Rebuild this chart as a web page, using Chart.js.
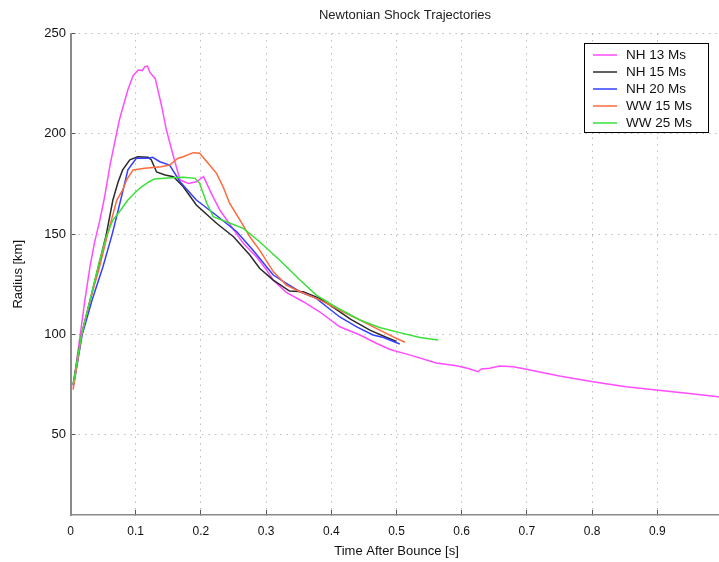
<!DOCTYPE html>
<html>
<head>
<meta charset="utf-8">
<script src="https://cdn.jsdelivr.net/npm/chart.js@4/dist/chart.umd.min.js"></script>
<style>
  html, body { margin: 0; padding: 0; overflow: hidden; background: #fff; }
  #wrap { width: 810px; height: 562px; }
</style>
</head>
<body>
<div id="wrap"><canvas id="c" width="810" height="562"></canvas></div>
<script>
// Shock radius [km] versus time after bounce [s] for each progenitor model
const nh13Time = [0.004, 0.015, 0.022, 0.030, 0.037, 0.045, 0.052, 0.061, 0.075, 0.088, 0.096, 0.104, 0.110, 0.114, 0.118, 0.122, 0.130, 0.140, 0.147, 0.158, 0.168, 0.181, 0.193, 0.204, 0.216, 0.229, 0.247, 0.265, 0.285, 0.300, 0.311, 0.331, 0.357, 0.382, 0.413, 0.444, 0.469, 0.490, 0.520, 0.561, 0.592, 0.610, 0.625, 0.630, 0.643, 0.658, 0.679, 0.699, 0.750, 0.801, 0.852, 0.898, 0.949, 1.000];
const nh13Radius = [74, 100, 117, 134, 146, 157, 168, 185, 207, 222, 229, 231.8, 231.5, 233.5, 233.8, 230.5, 227.5, 213.5, 202, 188.6, 177, 175.3, 176.1, 178.6, 170.3, 162, 153.7, 145.4, 138.7, 132.5, 127, 121, 116.3, 111.3, 103.8, 99.7, 95.6, 92.5, 89.8, 85.8, 84.4, 83, 81.4, 82.8, 83.1, 84.3, 83.9, 82.6, 79.3, 76.4, 73.9, 72.3, 70.6, 68.7];

const nh15Time = [0.004, 0.017, 0.030, 0.043, 0.055, 0.065, 0.073, 0.080, 0.091, 0.103, 0.119, 0.124, 0.132, 0.145, 0.158, 0.173, 0.193, 0.224, 0.250, 0.275, 0.290, 0.311, 0.336, 0.357, 0.382, 0.403, 0.430, 0.460, 0.485, 0.500];
const nh15Radius = [75, 100, 117, 134, 150, 167, 176, 182, 187, 188.6, 188.3, 187, 181, 179.5, 178.6, 173.6, 164.5, 155.4, 148.7, 139.6, 133, 127.1, 121.6, 121.3, 118, 113.5, 107.5, 102, 98.5, 96.5];

const nh20Time = [0.005, 0.018, 0.033, 0.050, 0.064, 0.077, 0.088, 0.101, 0.119, 0.126, 0.137, 0.152, 0.168, 0.193, 0.224, 0.255, 0.280, 0.290, 0.311, 0.331, 0.352, 0.377, 0.393, 0.413, 0.439, 0.464, 0.480, 0.505];
const nh20Radius = [75, 100, 117, 134, 150, 167, 182, 187.8, 187.8, 188.3, 186.1, 184.4, 176.1, 167, 159.3, 151.2, 142, 138, 129.6, 125.5, 121.3, 118, 113.8, 108.7, 103.8, 99.7, 98.5, 95.2];

const ww15Time = [0.004, 0.017, 0.030, 0.044, 0.057, 0.071, 0.080, 0.086, 0.096, 0.114, 0.139, 0.152, 0.165, 0.173, 0.188, 0.198, 0.211, 0.224, 0.234, 0.244, 0.260, 0.275, 0.290, 0.311, 0.331, 0.352, 0.377, 0.393, 0.418, 0.444, 0.469, 0.495, 0.513];
const ww15Radius = [72.5, 100, 117, 133, 150, 167, 172, 177, 182, 182.8, 183.6, 184.4, 187.8, 188.6, 190.6, 190.3, 185.3, 180.3, 173.6, 165.4, 157, 148.7, 142, 131.3, 124.6, 121.3, 118, 115.5, 111.3, 107.2, 103, 98.8, 96.1];

const ww25Time = [0.004, 0.017, 0.030, 0.044, 0.055, 0.065, 0.077, 0.088, 0.100, 0.109, 0.120, 0.129, 0.149, 0.173, 0.191, 0.198, 0.209, 0.219, 0.239, 0.265, 0.290, 0.321, 0.352, 0.377, 0.408, 0.444, 0.474, 0.505, 0.536, 0.564];
const ww25Radius = [75, 100, 117, 136, 149, 157, 162, 167, 171, 173.6, 176, 177.5, 178, 178.3, 177.8, 175.3, 165.4, 158.7, 156.2, 152.9, 146.2, 137, 127.1, 119.6, 113.5, 107.2, 103.5, 100.9, 98.5, 97.2];

const seriesLabels = ['NH 13 Ms', 'NH 15 Ms', 'NH 20 Ms', 'WW 15 Ms', 'WW 25 Ms'];
const seriesColors = ['#ff4dff', '#2b2b2b', '#3340ff', '#ff6a3d', '#3ae03a'];
const xTickValues = [0, 0.1, 0.2, 0.3, 0.4, 0.5, 0.6, 0.7, 0.8, 0.9];
const yTickValues = [50, 100, 150, 200, 250];

const FONT = '"Liberation Sans", Arial, Helvetica, sans-serif';

function toPoints(ts, rs) {
  return ts.map((t, i) => ({ x: t, y: rs[i] }));
}

const seriesData = [
  toPoints(nh13Time, nh13Radius),
  toPoints(nh15Time, nh15Radius),
  toPoints(nh20Time, nh20Radius),
  toPoints(ww15Time, ww15Radius),
  toPoints(ww25Time, ww25Radius)
];

// Boxed legend in the upper right corner of the axes
const boxedLegend = {
  id: 'boxedLegend',
  afterDraw(chart) {
    const { ctx, chartArea } = chart;
    const left = chartArea.left + 513.5;
    const top = chartArea.top + 9.5;
    const w = 124, h = 89;
    ctx.save();
    ctx.fillStyle = '#fff';
    ctx.fillRect(left, top, w, h);
    ctx.strokeStyle = '#000';
    ctx.lineWidth = 1;
    ctx.strokeRect(left + 0.5, top + 0.5, w, h);
    ctx.font = '13.5px ' + FONT;
    ctx.textBaseline = 'middle';
    ctx.textAlign = 'left';
    chart.data.datasets.forEach((ds, i) => {
      const y = top + 12 + i * 17;
      ctx.strokeStyle = ds.borderColor;
      ctx.lineWidth = 1.5;
      ctx.beginPath();
      ctx.moveTo(left + 9, y);
      ctx.lineTo(left + 33, y);
      ctx.stroke();
      ctx.fillStyle = '#111';
      ctx.fillText(ds.label, left + 42, y + 0.5);
    });
    ctx.restore();
  }
};

const tickGrid = {
  color: '#bdbdbd',
  lineWidth: 1,
  drawTicks: true,
  tickLength: -5,
  tickColor: '#555',
  tickWidth: 1
};

new Chart(document.getElementById('c'), {
  type: 'line',
  data: {
    datasets: seriesLabels.map((label, i) => ({
      label,
      data: seriesData[i],
      xAxisID: 'x',
      borderColor: seriesColors[i],
      backgroundColor: seriesColors[i],
      borderWidth: 1.5,
      pointRadius: 0,
      tension: 0,
      fill: false,
      order: seriesLabels.length - i
    }))
  },
  options: {
    responsive: false,
    animation: false,
    devicePixelRatio: 1,
    layout: { padding: 0 },
    plugins: {
      legend: { display: false },
      tooltip: { enabled: false },
      title: {
        display: true,
        text: 'Newtonian Shock Trajectories',
        color: '#222',
        font: { family: FONT, size: 13, weight: 'normal' },
        padding: { top: 8, bottom: 9.9 }
      }
    },
    scales: {
      x: {
        type: 'linear',
        position: 'bottom',
        stack: 'time',
        stackWeight: 652,
        min: 0,
        max: 1,
        afterBuildTicks(scale) {
          scale.ticks = xTickValues.map(v => ({ value: v }));
        },
        afterFit(scale) { scale.height = 47; },
        ticks: {
          color: '#111',
          font: { family: FONT, size: 12 },
          padding: 14,
          maxRotation: 0,
          autoSkip: false,
          callback: v => String(Math.round(v * 10) / 10)
        },
        grid: tickGrid,
        border: { display: true, color: '#8a8a8a', width: 1.5, dash: [1.5, 5] },
        title: {
          display: true,
          text: 'Time After Bounce [s]',
          color: '#111',
          font: { family: FONT, size: 13 },
          padding: { top: 0, bottom: 3.2 }
        }
      },
      // empty continuation of the time axis past t = 1 s
      xRest: {
        type: 'linear',
        position: 'bottom',
        stack: 'time',
        stackWeight: 87.5,
        min: 1,
        max: 1.134,
        afterFit(scale) { scale.height = 47; },
        ticks: { display: false },
        grid: { display: false },
        border: { display: false },
        title: { display: false }
      },
      y: {
        type: 'linear',
        min: 10,
        max: 250,
        afterBuildTicks(scale) {
          scale.ticks = yTickValues.map(v => ({ value: v }));
        },
        afterFit(scale) { scale.width = 70.5; },
        ticks: {
          color: '#111',
          font: { family: FONT, size: 13 },
          padding: 9.5
        },
        grid: tickGrid,
        border: { display: true, color: '#8a8a8a', width: 2, dash: [1.5, 5] },
        title: {
          display: true,
          text: 'Radius [km]',
          color: '#111',
          font: { family: FONT, size: 13 },
          padding: { top: 10.2, bottom: 0 }
        }
      }
    }
  },
  plugins: [boxedLegend]
});
</script>
</body>
</html>
